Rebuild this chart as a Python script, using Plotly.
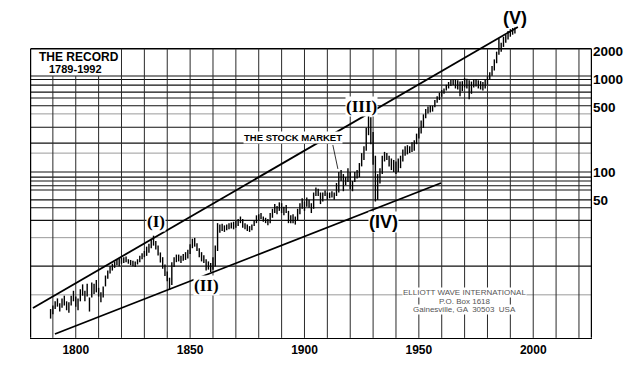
import math
import plotly.graph_objects as go

# ---------------- data ----------------
years = list(range(1789, 1993))
lows = [2.6, 2.9, 3.3, 3.5, 3.1, 3.4, 3.6, 3.2, 3.0, 3.6, 4.0, 3.5, 3.2, 4.0, 4.6, 4.0, 4.5, 3.1, 4.4, 4.8,
        5.0, 4.5, 3.9, 4.4, 5.8, 7.0, 8.0, 8.6, 9.2, 9.8, 9.6, 10.2, 10.4, 10.6, 10.2, 9.8, 9.6, 9.4, 10.0, 10.6,
        11.4, 12.0, 12.4, 13.4, 15.0, 16.0, 14.5, 12.5, 10.5, 9.0, 7.5, 6.6, 5.3, 6.0, 9.4, 10.6, 10.8, 10.4, 11.0, 11.2,
        11.6, 13.0, 15.0, 15.6, 14.0, 12.0, 10.8, 10.4, 8.6, 8.8, 8.3, 8.8, 9.5, 14.0, 22.0, 23.0, 22.5, 23.5, 24.0, 24.5,
        24.0, 25.0, 26.0, 28.0, 25.0, 24.0, 23.0, 22.5, 23.5, 26.0, 28.0, 30.0, 31.0, 29.0, 28.0, 26.5, 28.0, 32.0, 36.0, 35.0,
        38.0, 36.0, 34.0, 36.0, 28.0, 28.0, 28.0, 27.0, 30.0, 35.0, 40.0, 38.0, 42.0, 41.0, 36.0, 40.0, 55.0, 55.0, 45.0, 48.0,
        55.0, 50.0, 52.0, 53.0, 50.0, 55.0, 60.0, 80.0, 62.0, 72.0, 78.0, 65.0, 62.0, 78.0, 85.0, 88.0, 115.0, 135.0, 170.0, 250.0,
        200.0, 120.0, 48.0, 50.0, 75.0, 95.0, 130.0, 135.0, 115.0, 105.0, 100.0, 95.0, 100.0, 110.0, 130.0, 150.0, 155.0, 160.0, 165.0, 170.0,
        200.0, 230.0, 260.0, 300.0, 380.0, 430.0, 440.0, 450.0, 500.0, 560.0, 600.0, 650.0, 700.0, 760.0, 800.0, 850.0, 870.0, 800.0, 780.0, 660.0,
        750.0, 820.0, 800.0, 610.0, 700.0, 820.0, 840.0, 800.0, 780.0, 760.0, 800.0, 880.0, 1000.0, 1100.0, 1250.0, 1500.0, 1850.0, 2000.0, 2250.0, 2500.0,
        2700.0, 2900.0, 3050.0, 3150.0]
highs = [3.3, 3.6, 4.0, 4.3, 3.8, 4.3, 4.6, 4.0, 3.9, 4.6, 5.2, 4.5, 4.3, 5.4, 6.1, 5.2, 6.2, 4.4, 6.4, 6.2,
         6.8, 5.6, 5.0, 5.8, 7.6, 8.6, 9.6, 10.2, 10.8, 11.2, 11.6, 11.8, 12.0, 12.2, 11.4, 11.2, 11.0, 10.8, 11.4, 12.4,
         13.2, 14.0, 15.6, 16.8, 19.0, 20.5, 18.0, 16.0, 13.5, 12.0, 10.0, 8.4, 7.2, 10.6, 12.0, 12.8, 12.8, 12.4, 13.0, 13.6,
         14.4, 16.6, 19.0, 19.4, 17.0, 15.0, 13.6, 12.6, 11.4, 10.8, 10.4, 12.0, 16.0, 28.0, 27.0, 27.5, 26.5, 27.0, 28.0, 28.5,
         29.0, 29.5, 31.0, 33.0, 31.0, 28.0, 27.0, 26.0, 27.0, 30.0, 34.0, 35.0, 36.0, 33.0, 32.0, 31.0, 36.0, 40.0, 45.0, 43.0,
         47.0, 46.0, 42.0, 44.0, 38.0, 34.0, 35.0, 33.0, 40.0, 46.0, 52.0, 48.0, 53.0, 50.0, 46.0, 60.0, 68.0, 66.0, 60.0, 60.0,
         63.0, 60.0, 60.0, 62.0, 60.0, 76.0, 100.0, 105.0, 95.0, 88.0, 110.0, 100.0, 80.0, 100.0, 105.0, 125.0, 160.0, 190.0, 300.0, 410.0,
         390.0, 270.0, 150.0, 95.0, 110.0, 150.0, 165.0, 160.0, 150.0, 140.0, 135.0, 130.0, 140.0, 150.0, 175.0, 190.0, 195.0, 190.0, 210.0, 220.0,
         260.0, 300.0, 360.0, 420.0, 480.0, 510.0, 520.0, 520.0, 600.0, 660.0, 720.0, 770.0, 800.0, 880.0, 940.0, 990.0, 1000.0, 1000.0, 980.0, 950.0,
         960.0, 1040.0, 1020.0, 980.0, 950.0, 1000.0, 1010.0, 980.0, 960.0, 940.0, 1000.0, 1080.0, 1200.0, 1400.0, 1650.0, 2000.0, 2800.0, 2500.0, 2900.0, 3050.0,
         3350.0, 3500.0, 3600.0, 3650.0]

# channel (trend) lines: start/end points
upper_line_x = [1781.3, 1993.3]
upper_line_y = [3.39, 3695.0]
lower_line_x = [1790.9, 1959.7]
lower_line_y = [1.773, 76.0]
pointer_x = [1912.4, 1914.6]
pointer_y = [196.0, 108.0]

# grid of the semi-log paper
grid_years = [1790, 1800, 1810, 1820, 1830, 1840, 1850, 1860, 1870, 1880, 1890, 1900,
              1910, 1920, 1930, 1940, 1950, 1960, 1970, 1980, 1990, 2000, 2010, 2020]
box_years = [1790, 1800, 1810]
frame_x = [1780.25, 2025.45]
frame_top = 2150.0
frame_bottom = 1.61
box_bottom = 1090.0
grid_dark = [1090, 1000, 870, 730, 630, 520, 305, 205, 100, 88, 80, 71, 64, 50, 41, 30, 9.6]
grid_light = [425, 160, 19.5, 4.7]

x_ticks = [1800, 1850, 1900, 1950, 2000]
y_ticks = [50, 100, 500, 1000, 2000]

# ---------------- figure ----------------
fig = go.Figure()


def seg_v(xs, y0, y1):
    X, Y = [], []
    for x in xs:
        X += [x, x, None]
        Y += [y0(x), y1(x), None]
    return X, Y


def seg_h(vals, x0, x1):
    X, Y = [], []
    for v in vals:
        X += [x0, x1, None]
        Y += [v, v, None]
    return X, Y


# horizontal grid
hx, hy = seg_h(grid_light, frame_x[0], frame_x[1])
fig.add_trace(go.Scatter(x=hx, y=hy, mode="lines", line=dict(color="#9a9a9a", width=1), hoverinfo="skip"))
hx, hy = seg_h(grid_dark, frame_x[0], frame_x[1])
fig.add_trace(go.Scatter(x=hx, y=hy, mode="lines", line=dict(color="#111", width=1.1), hoverinfo="skip"))
hx, hy = seg_h([frame_top], frame_x[0], frame_x[1])
fig.add_trace(go.Scatter(x=hx, y=hy, mode="lines", line=dict(color="#000", width=1.3), hoverinfo="skip"))

# vertical grid
vx, vy = seg_v(grid_years, lambda x: frame_bottom,
               lambda x: box_bottom if x in box_years else frame_top)
fig.add_trace(go.Scatter(x=vx, y=vy, mode="lines", line=dict(color="#2a2a2a", width=1), hoverinfo="skip"))
vx, vy = seg_v(frame_x, lambda x: frame_bottom, lambda x: frame_top)
fig.add_trace(go.Scatter(x=vx, y=vy, mode="lines", line=dict(color="#000", width=1.3), hoverinfo="skip"))

# channel lines
fig.add_trace(go.Scatter(x=upper_line_x, y=upper_line_y, mode="lines",
                         line=dict(color="#000", width=1.8), hoverinfo="skip"))
fig.add_trace(go.Scatter(x=lower_line_x, y=lower_line_y, mode="lines",
                         line=dict(color="#000", width=1.8), hoverinfo="skip"))
fig.add_trace(go.Scatter(x=pointer_x, y=pointer_y, mode="lines",
                         line=dict(color="#000", width=0.8), hoverinfo="skip"))

# yearly high-low bars
bx, by = [], []
for yr, lo, hi in zip(years, lows, highs):
    bx += [yr, yr, None]
    by += [lo, hi, None]
fig.add_trace(go.Scatter(x=bx, y=by, mode="lines", line=dict(color="#000", width=1.4), hoverinfo="skip"))

L = math.log10
serif = "Liberation Serif"
sans = "Liberation Sans"
ann = []


def label(text, x, v, size, family, color="#000", bg="white", xanchor="center"):
    ann.append(dict(text=text, x=x, y=L(v), xref="x", yref="y", showarrow=False,
                    font=dict(size=size, family=family, color=color), bgcolor=bg,
                    borderpad=0, xanchor=xanchor, yanchor="middle"))


label("<b>(I)</b>", 1834.9, 29.0, 17, serif)
label("<b>(II)</b>", 1857.3, 6.0, 17, serif)
label("<b>(III)</b>", 1925.1, 505, 17, serif)
label("<b>(IV)</b>", 1934.7, 28.8, 18, sans)
label("<b>(V)</b>", 1992.0, 4624, 18, sans, bg="rgba(0,0,0,0)")
label("<b>THE STOCK MARKET</b>", 1894.9, 236, 9.5, sans)
label("<b>THE RECORD</b>", 1801.4, 1750, 12, sans, bg="rgba(0,0,0,0)")
label("<b>1789-1992</b>", 1800.1, 1300, 11, sans, bg="rgba(0,0,0,0)")
label("ELLIOTT WAVE INTERNATIONAL", 1970.1, 4.92, 8, sans, color="#555")
label("P.O. Box 1618", 1970.1, 4.03, 8, sans, color="#555")
label("Gainesville, GA  30503  USA", 1970.1, 3.30, 8, sans, color="#555")

# the page body has an 8px margin, so the figure is sized/offset to compensate
fig.update_layout(
    width=636, height=361,
    margin=dict(l=22, r=52, t=2, b=31),
    paper_bgcolor="white", plot_bgcolor="white",
    showlegend=False, hovermode=False,
    annotations=ann,
    xaxis=dict(range=[1780, 2025.7], showgrid=False, zeroline=False,
               showline=True, linecolor="#000", linewidth=1.3,
               tickvals=x_ticks, ticktext=[f"<b>{t}</b>" for t in x_ticks], ticks="",
               tickfont=dict(family=sans, size=12, color="#000")),
    yaxis=dict(type="log", side="right", range=[0.2054, 3.7514], showgrid=False,
               zeroline=False, showline=False, ticks="",
               tickvals=y_ticks, ticktext=[f"<b>{t}</b>" for t in y_ticks],
               tickfont=dict(family=sans, size=13.5, color="#000")),
)

fig.write_html("out.html")
